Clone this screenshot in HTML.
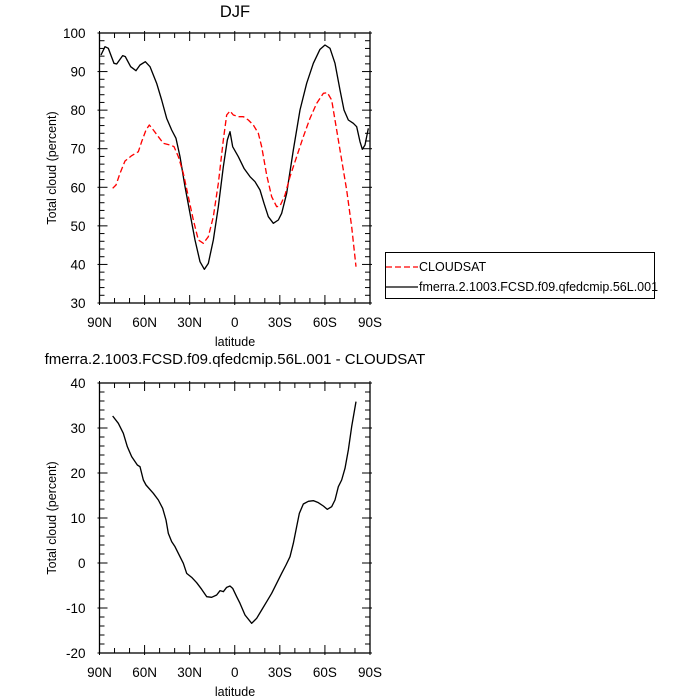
<!DOCTYPE html>
<html><head><meta charset="utf-8"><style>
body{margin:0;background:#fff;}
svg{display:block;font-family:"Liberation Sans",sans-serif;}
</style></head><body>
<svg id="s" width="700" height="700" xmlns="http://www.w3.org/2000/svg">
<rect width="700" height="700" fill="#fff"/>
<text x="235" y="17" font-size="16.5" text-anchor="middle">DJF</text>
<text x="235" y="364" font-size="15" text-anchor="middle">fmerra.2.1003.FCSD.f09.qfedcmip.56L.001 - CLOUDSAT</text>
<text x="235" y="346" font-size="12.5" text-anchor="middle">latitude</text>
<text x="235" y="696" font-size="12.5" text-anchor="middle">latitude</text>
<text transform="translate(56,168) rotate(-90)" font-size="12.5" text-anchor="middle">Total cloud (percent)</text>
<text transform="translate(56,518) rotate(-90)" font-size="12.5" text-anchor="middle">Total cloud (percent)</text>
<g id="ax"></g>
<g transform="translate(40,0) scale(0.3333333)" fill="none" stroke-linejoin="round">
<polyline stroke="#000" stroke-width="4" points="183,165 195,140 205,145 222,190 230,192 248,167 256,170 272,200 288,212 300,195 316,185 330,200 350,250 365,300 380,355 395,390 408,415 420,470 435,560 450,640 465,720 480,785 493,808 505,790 520,720 535,620 550,500 562,420 570,395 578,440 595,470 612,505 630,530 645,545 660,570 672,610 685,650 700,670 715,660 725,640 740,580 760,450 780,330 800,250 820,190 840,148 855,135 870,145 885,190 900,270 912,330 925,360 940,370 950,380 960,425 967,448 975,435 985,385"/>
<polyline stroke="#f00" stroke-width="4" stroke-dasharray="18,9" points="218,565 228,555 240,520 255,483 275,467 295,455 305,425 318,390 328,375 340,390 355,410 370,430 390,435 402,440 415,470 430,520 445,590 460,660 475,720 490,730 505,710 520,650 535,550 550,420 560,345 570,333 580,345 595,350 610,350 625,360 640,375 655,400 665,440 680,525 695,590 710,620 720,618 735,585 750,530 770,470 790,410 810,355 830,310 850,280 862,278 875,300 890,390 905,480 920,570 935,680 948,800"/>
</g>
<g transform="translate(40,340) scale(0.3333333)" fill="none" stroke-linejoin="round">
<polyline stroke="#000" stroke-width="4" points="218,228 235,250 250,280 262,320 275,350 292,375 300,380 310,420 318,435 340,460 355,480 368,505 378,540 385,580 395,605 405,620 420,650 430,670 440,700 455,712 470,728 485,748 500,770 515,772 530,765 540,752 550,755 560,742 570,738 578,745 590,770 600,790 615,825 635,850 650,835 665,810 680,785 695,760 710,730 725,700 738,675 750,650 760,610 770,560 778,520 790,492 805,484 820,482 835,488 850,498 862,508 875,500 885,480 895,440 905,420 915,385 925,330 935,260 948,185"/>
</g>
<rect x="385.5" y="252.5" width="269" height="46" fill="none" stroke="#000" stroke-width="1"/>
<line x1="386" y1="267" x2="418" y2="267" stroke="#f00" stroke-width="1.3" stroke-dasharray="6,3"/>
<line x1="386" y1="287" x2="418" y2="287" stroke="#000" stroke-width="1.3"/>
<text x="419" y="271" font-size="12.5">CLOUDSAT</text>
<text x="419" y="291" font-size="12.5">fmerra.2.1003.FCSD.f09.qfedcmip.56L.001</text>
</svg>
<script>
var g=document.getElementById('ax'),h='';
function axes(L,R,T,B,ylab){
 h+='<rect x="'+L+'" y="'+T+'" width="'+(R-L)+'" height="'+(B-T)+'" fill="none" stroke="#000" stroke-width="1.3"/>';
 var xl=['90N','60N','30N','0','30S','60S','90S'];
 for(var i=0;i<=18;i++){var x=L+(R-L)*i/18,len=(i%3==0)?8:5,o=(i%3==0)?2:0;
  h+='<line x1="'+x+'" y1="'+(B+o)+'" x2="'+x+'" y2="'+(B-len)+'" stroke="#000"/>';
  h+='<line x1="'+x+'" y1="'+(T-o)+'" x2="'+x+'" y2="'+(T+len)+'" stroke="#000"/>';
  if(i%3==0)h+='<text x="'+x+'" y="'+(B+24)+'" font-size="13.5" text-anchor="middle">'+xl[i/3]+'</text>';}
 var n=ylab.length-1;
 for(var j=0;j<=n*5;j++){var y=B-(B-T)*j/(n*5),len=(j%5==0)?8:5,o=(j%5==0)?2:0;
  h+='<line x1="'+(L-o)+'" y1="'+y+'" x2="'+(L+len)+'" y2="'+y+'" stroke="#000"/>';
  h+='<line x1="'+(R+o)+'" y1="'+y+'" x2="'+(R-len)+'" y2="'+y+'" stroke="#000"/>';
  if(j%5==0)h+='<text x="'+(L-14)+'" y="'+(y+5)+'" font-size="13.5" text-anchor="end">'+ylab[j/5]+'</text>';}
}
axes(99.5,370,33,303,['30','40','50','60','70','80','90','100']);
axes(99.5,370,383,653,['-20','-10','0','10','20','30','40']);
g.innerHTML=h;
</script>
</body></html>
